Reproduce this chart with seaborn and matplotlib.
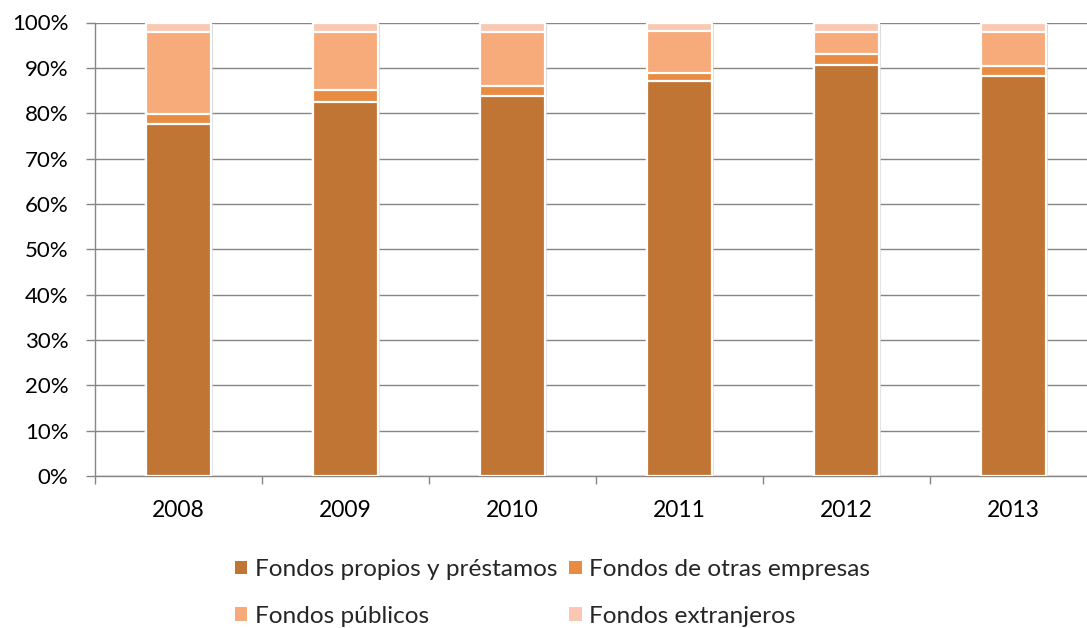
import matplotlib
matplotlib.use("Agg")
import matplotlib.pyplot as plt
import seaborn as sns
import numpy as np
import pandas as pd
from matplotlib.patches import Patch
import matplotlib.patheffects as pe

years = ["2008", "2009", "2010", "2011", "2012", "2013"]
propios = [77.7, 82.4, 83.7, 87.1, 90.7, 88.1]
otras = [2.1, 2.7, 2.2, 1.8, 2.3, 2.3]
publicos = [18.2, 12.8, 12.0, 9.3, 4.9, 7.4]
extranjeros = [2.0, 2.1, 2.1, 1.8, 2.1, 2.2]
series_names = ["Fondos propios y préstamos", "Fondos de otras empresas",
                "Fondos públicos", "Fondos extranjeros"]
colors = ["#C07534", "#E88B43", "#F7AA7A", "#F9C8B2"]
yticks = [0, 10, 20, 30, 40, 50, 60, 70, 80, 90, 100]

sns.set_theme(style="white")
plt.rcParams['font.family'] = ['Lato', 'DejaVu Sans']

fig = plt.figure(figsize=(10.87, 6.28), dpi=100)
ax = fig.add_axes([95/1087, 1-476/628, (1097-95)/1087, (476-22.5)/628])

vals = np.array([propios, otras, publicos, extranjeros])
cum = np.cumsum(vals, axis=0)
shadow = [pe.SimplePatchShadow(offset=(1.5, -1.5), shadow_rgbFace="#bbbbbb", alpha=0.6), pe.Normal()]
for i in range(3, -1, -1):
    df = pd.DataFrame({"year": years, "value": cum[i]})
    sns.barplot(data=df, x="year", y="value", color=colors[i], width=0.39,
                edgecolor="white", linewidth=1.6, saturation=1, ax=ax, zorder=3)
    if i == 3:
        for p in ax.patches:
            p.set_path_effects(shadow)

ax.set_ylim(0, 100)
ax.set_xlim(-0.5, 5.5)
ax.set_yticks(yticks)
ax.set_yticklabels([f"{t}%" for t in yticks])
ax.set_xlabel("")
ax.set_ylabel("")
ax.yaxis.grid(True, color="#868686", linewidth=1.0)
ax.set_axisbelow(True)
for s in ["top", "right"]:
    ax.spines[s].set_visible(False)
for s in ["left", "bottom"]:
    ax.spines[s].set_color("#868686")
    ax.spines[s].set_linewidth(1.0)

# x ticks at category boundaries
ax.set_xticks(np.arange(-0.5, 5.6, 1.0), minor=False)
ax.set_xticklabels([])
ax.set_xticks(np.arange(0, 6), minor=True)
ax.set_xticklabels(years, minor=True)
ax.tick_params(axis="x", which="major", length=6, width=1, color="#868686", direction="out", bottom=True)
ax.tick_params(axis="x", which="minor", length=0, labelsize=16.5, pad=17.5, labelcolor="black")
ax.tick_params(axis="y", length=6.5, width=1, color="#868686", direction="out", left=True,
               labelsize=16, pad=12.5, labelcolor="black")

handles = [Patch(facecolor=colors[k], edgecolor="none") for k in range(4)]
order = [0, 2, 1, 3]
fig.legend([handles[k] for k in order], [series_names[k] for k in order],
           ncol=2, loc="center left", bbox_to_anchor=(235/1087, 1-593/628),
           frameon=False, fontsize=17.6, handlelength=0.5, handleheight=0.5,
           handletextpad=0.3, columnspacing=0.5, labelspacing=1.05,
           borderpad=0, borderaxespad=0)

fig.savefig("out.png", dpi=100)
